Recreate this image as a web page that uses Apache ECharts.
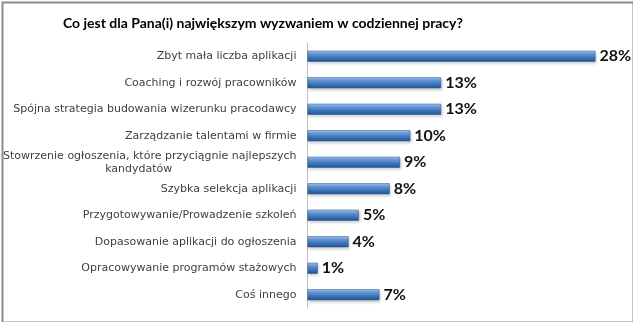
<!DOCTYPE html>
<html>
<head>
<meta charset="utf-8">
<script src="https://cdn.jsdelivr.net/npm/echarts@6/dist/echarts.min.js"></script>
<style>
html,body{margin:0;padding:0;background:#fff;}
#c{width:633px;height:322px;}
</style>
</head>
<body>
<div id="c"></div>
<script>
const titleText = 'Co jest dla Pana(i) największym wyzwaniem w codziennej pracy?';
const categories = [
  'Zbyt mała liczba aplikacji',
  'Coaching i rozwój pracowników',
  'Spójna strategia budowania wizerunku pracodawcy',
  'Zarządzanie talentami w firmie',
  'Stowrzenie ogłoszenia, które przyciągnie najlepszych\nkandydatów',
  'Szybka selekcja aplikacji',
  'Przygotowywanie/Prowadzenie szkoleń',
  'Dopasowanie aplikacji do ogłoszenia',
  'Opracowywanie programów stażowych',
  'Coś innego'
];
const values = [28, 13, 13, 10, 9, 8, 5, 4, 1, 7];

const chart = echarts.init(document.getElementById('c'));
chart.setOption({
  animation: false,
  backgroundColor: '#fff',
  graphic: [{
    type: 'rect', left: 0, top: 0, silent: true,
    shape: {x: 1, y: 1, width: 631, height: 320},
    style: {fill: 'none', stroke: '#8c8c8c', lineWidth: 2}
  }],
  title: {
    text: titleText,
    left: 58, top: 11,
    textStyle: {fontFamily: 'Lato', fontWeight: 'bold', fontSize: 14, color: '#000'}
  },
  grid: {left: 303, right: 17, top: 43, bottom: 14, containLabel: false},
  xAxis: {
    type: 'value', min: 0, max: 30, show: false
  },
  yAxis: {
    type: 'category', inverse: true, data: categories,
    axisLine: {show: true, lineStyle: {color: '#bfbfbf', width: 1}},
    axisTick: {show: false},
    axisLabel: {
      margin: 11,
      fontFamily: 'DejaVu Sans', fontSize: 11, color: '#404040', lineHeight: 13,
      formatter: function (v) {
        const parts = v.split('\n');
        if (parts.length === 1) return v;
        return '{a|' + parts[0] + '}\n{c|' + parts[1] + '}';
      },
      rich: {
        a: {fontFamily: 'DejaVu Sans', fontSize: 11, color: '#404040', lineHeight: 13},
        c: {fontFamily: 'DejaVu Sans', fontSize: 11, color: '#404040', lineHeight: 13, align: 'center', padding: [0, 22, 0, 0]}
      }
    }
  },
  series: [{
    type: 'bar',
    data: values,
    barWidth: 11,
    itemStyle: {
      color: new echarts.graphic.LinearGradient(0, 0, 0, 1, [
        {offset: 0, color: '#b4d0f2'},
        {offset: 0.25, color: '#6d9fdc'},
        {offset: 0.6, color: '#3d77c0'},
        {offset: 1, color: '#24528f'}
      ]),
      borderColor: '#2f5f9e',
      borderWidth: 0.6,
      shadowColor: 'rgba(0,0,0,0.25)',
      shadowBlur: 3,
      shadowOffsetX: 1,
      shadowOffsetY: 2
    },
    label: {
      show: true, position: 'right', distance: 4,
      formatter: '{c}%',
      fontFamily: 'Lato', fontWeight: 'bold', fontSize: 16, color: '#111'
    }
  }]
});
</script>
</body>
</html>
